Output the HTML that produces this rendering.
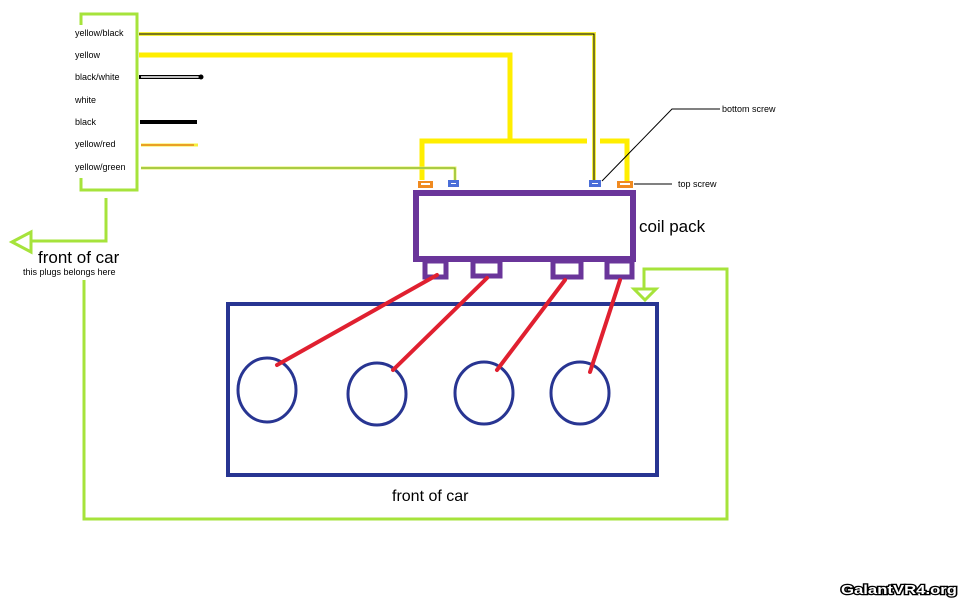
<!DOCTYPE html>
<html><head><style>body{margin:0;background:#fff}svg{display:block}text{font-family:"Liberation Sans",sans-serif}</style></head>
<body>
<svg width="960" height="600" viewBox="0 0 960 600">
<rect width="960" height="600" fill="#fff"/>
<g fill="none" stroke="#a6e33b" stroke-width="3">
<polyline points="81,25 81,14 137,14 137,190 81,190 81,178"/>
<polyline points="106,198 106,241 30,241"/>
<polygon points="12,242 31,232 31,252"/>
<polyline points="84,280 84,519 727,519 727,269 644,269 644,289"/>
<polygon points="634,289 656,289 645,300"/>
</g>
<g font-size="9" fill="#000">
<text x="75" y="36">yellow/black</text>
<text x="75" y="58">yellow</text>
<text x="75" y="80">black/white</text>
<text x="75" y="103">white</text>
<text x="75" y="125">black</text>
<text x="75" y="147">yellow/red</text>
<text x="75" y="170">yellow/green</text>
</g>
<polyline points="139,34 594,34 594,180" fill="none" stroke="#f5f03a" stroke-width="4"/>
<polyline points="139,34 594,34 594,180" fill="none" stroke="#000" stroke-width="1"/>
<polyline points="139,55 510,55 510,140" fill="none" stroke="#ffee00" stroke-width="5"/>
<polyline points="422,180 422,141 587,141" fill="none" stroke="#ffee00" stroke-width="5"/>
<polyline points="600,141 627,141 627,181" fill="none" stroke="#ffee00" stroke-width="5"/>
<line x1="139" y1="77" x2="201" y2="77" stroke="#000" stroke-width="4"/>
<line x1="141" y1="77" x2="199" y2="77" stroke="#fff" stroke-width="1.5"/>
<circle cx="201" cy="77" r="2.5" fill="#000"/>
<line x1="140" y1="122" x2="197" y2="122" stroke="#000" stroke-width="4"/>
<line x1="141" y1="145" x2="198" y2="145" stroke="#f5f03a" stroke-width="3"/>
<line x1="141" y1="145" x2="194" y2="145" stroke="#e05010" stroke-width="1"/>
<polyline points="141,168 455,168 455,181" fill="none" stroke="#e8f060" stroke-width="3"/>
<polyline points="141,168 455,168 455,181" fill="none" stroke="#6aa828" stroke-width="1"/>
<rect x="418" y="181" width="15" height="7" fill="#f08a20"/><rect x="421" y="183" width="9" height="2" fill="#fff"/>
<rect x="448" y="180" width="11" height="7" fill="#4a6ed8"/><rect x="451" y="183" width="5" height="1" fill="#fff"/>
<rect x="589" y="180" width="12" height="7" fill="#4a6ed8"/><rect x="592" y="183" width="6" height="1" fill="#fff"/>
<rect x="617" y="181" width="16" height="7" fill="#f08a20"/><rect x="620" y="183" width="10" height="2" fill="#fff"/>
<polyline points="720,109 672,109 602,181" fill="none" stroke="#000" stroke-width="1"/>
<line x1="634" y1="184" x2="672" y2="184" stroke="#000" stroke-width="1"/>
<text x="722" y="112" font-size="9">bottom screw</text>
<text x="678" y="187" font-size="9">top screw</text>
<rect x="416" y="193" width="217" height="66" fill="none" stroke="#6a359a" stroke-width="6"/>
<g fill="#fff" stroke="#6a359a" stroke-width="5">
<rect x="425" y="261" width="21" height="16"/>
<rect x="473" y="261" width="27" height="15"/>
<rect x="553" y="261" width="28" height="16"/>
<rect x="607" y="261" width="25" height="16"/>
</g>
<text x="639" y="232" font-size="17">coil pack</text>
<rect x="228" y="304" width="429" height="171" fill="none" stroke="#283592" stroke-width="4"/>
<g fill="none" stroke="#283592" stroke-width="3">
<ellipse cx="267" cy="390" rx="29" ry="32"/>
<ellipse cx="377" cy="394" rx="29" ry="31"/>
<ellipse cx="484" cy="393" rx="29" ry="31"/>
<ellipse cx="580" cy="393" rx="29" ry="31"/>
</g>
<g stroke="#e02030" stroke-width="4" stroke-linecap="round">
<line x1="437" y1="275" x2="277" y2="365"/>
<line x1="487" y1="278" x2="393" y2="370"/>
<line x1="565" y1="280" x2="497" y2="370"/>
<line x1="620" y1="280" x2="590" y2="372"/>
</g>
<text x="392" y="501" font-size="16">front of car</text>
<text x="38" y="263" font-size="17">front of car</text>
<text x="23" y="275" font-size="9">this plugs belongs here</text>
<text x="841" y="594" font-size="13" font-weight="bold" font-family="Liberation Mono" fill="#fff" stroke="#000" stroke-width="2.5" paint-order="stroke" textLength="116" lengthAdjust="spacingAndGlyphs">GalantVR4.org</text>
</svg>
</body></html>
